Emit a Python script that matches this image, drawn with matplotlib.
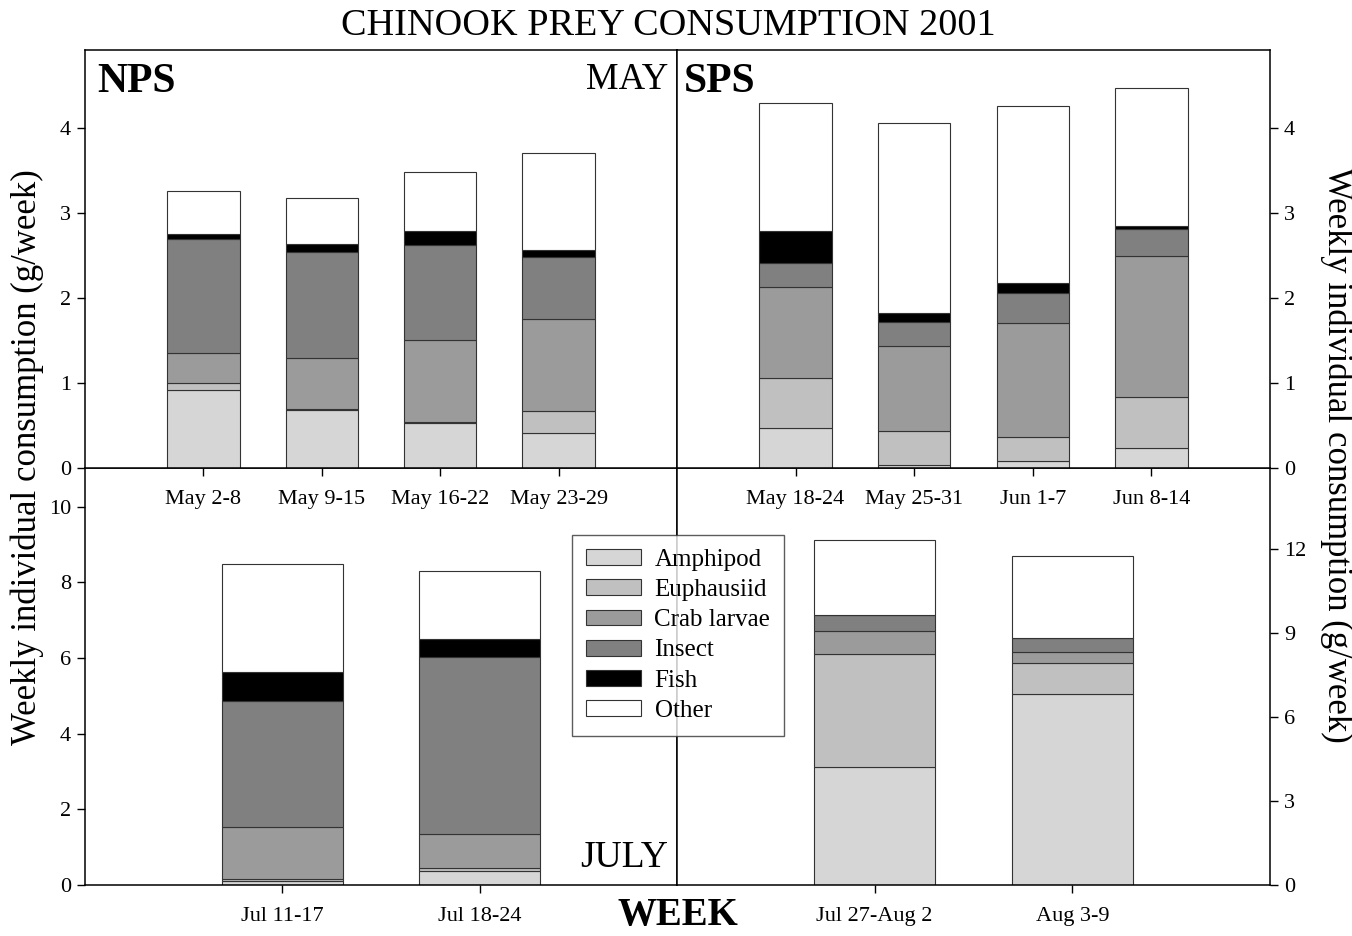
import numpy as np
import matplotlib
matplotlib.use('Agg')
import matplotlib.pyplot as plt
from matplotlib.patches import Patch

matplotlib.rcParams['font.family'] = 'Liberation Serif'

prey = ['Amphipod', 'Euphausiid', 'Crab larvae', 'Insect', 'Fish', 'Other']
prey_colors = ['#d6d6d6', '#c0c0c0', '#9b9b9b', '#808080', '#000000', '#ffffff']

# NPS, May weeks (g/week per prey group)
nps_may_weeks = ['May 2-8', 'May 9-15', 'May 16-22', 'May 23-29']
nps_may_amphipod = [0.92, 0.68, 0.525, 0.41]
nps_may_euphausiid = [0.08, 0.01, 0.015, 0.26]
nps_may_crab = [0.35, 0.60, 0.97, 1.08]
nps_may_insect = [1.34, 1.25, 1.11, 0.73]
nps_may_fish = [0.06, 0.095, 0.17, 0.085]
nps_may_other = [0.505, 0.545, 0.69, 1.145]

# SPS, May/June weeks
sps_may_weeks = ['May 18-24', 'May 25-31', 'Jun 1-7', 'Jun 8-14']
sps_may_amphipod = [0.467, 0.035, 0.082, 0.24]
sps_may_euphausiid = [0.593, 0.40, 0.288, 0.59]
sps_may_crab = [1.07, 1.00, 1.34, 1.67]
sps_may_insect = [0.285, 0.285, 0.35, 0.31]
sps_may_fish = [0.375, 0.10, 0.115, 0.04]
sps_may_other = [1.51, 2.235, 2.085, 1.62]

# NPS, July weeks
nps_jul_weeks = ['Jul 11-17', 'Jul 18-24']
nps_jul_amphipod = [0.105, 0.37]
nps_jul_euphausiid = [0.065, 0.08]
nps_jul_crab = [1.37, 0.91]
nps_jul_insect = [3.31, 4.67]
nps_jul_fish = [0.79, 0.46]
nps_jul_other = [2.85, 1.80]

# SPS, July/August weeks
sps_jul_weeks = ['Jul 27-Aug 2', 'Aug 3-9']
sps_jul_amphipod = [4.23, 6.84]
sps_jul_euphausiid = [4.04, 1.11]
sps_jul_crab = [0.81, 0.38]
sps_jul_insect = [0.56, 0.48]
sps_jul_fish = [0.0, 0.0]
sps_jul_other = [2.67, 2.93]


def stacked(ax, weeks, series):
    x = np.arange(1, len(weeks) + 1)
    bottom = np.zeros(len(weeks))
    for vals, col in zip(series, prey_colors):
        vals = np.array(vals)
        ax.bar(x, vals, 0.61, bottom=bottom, color=col, edgecolor='#333333',
               linewidth=0.8, zorder=2)
        bottom += vals
    ax.set_xlim(0, len(weeks) + 1)
    ax.set_xticks(x)
    ax.set_xticklabels(weeks)
    for s in ax.spines.values():
        s.set_linewidth(1.1)
    ax.tick_params(axis='both', direction='out', length=6, width=1,
                   labelsize=16, pad=4)
    ax.tick_params(axis='x', pad=10)


W, H = 1352, 936
fig = plt.figure(figsize=(W / 100, H / 100), dpi=100)
x0, xm, x1 = 85 / W, 677 / W, 1270 / W
y0, ym, y1 = 1 - 885 / H, 1 - 468 / H, 1 - 50 / H

ax_c = fig.add_axes([x0, y0, xm - x0, ym - y0])
ax_d = fig.add_axes([xm, y0, x1 - xm, ym - y0])
ax_a = fig.add_axes([x0, ym, xm - x0, y1 - ym])
ax_b = fig.add_axes([xm, ym, x1 - xm, y1 - ym])
# upper panels drawn last so their week labels sit on top of the lower panels
ax_a.set_zorder(3)
ax_b.set_zorder(3)

stacked(ax_a, nps_may_weeks, [nps_may_amphipod, nps_may_euphausiid, nps_may_crab,
                              nps_may_insect, nps_may_fish, nps_may_other])
stacked(ax_b, sps_may_weeks, [sps_may_amphipod, sps_may_euphausiid, sps_may_crab,
                              sps_may_insect, sps_may_fish, sps_may_other])
stacked(ax_c, nps_jul_weeks, [nps_jul_amphipod, nps_jul_euphausiid, nps_jul_crab,
                              nps_jul_insect, nps_jul_fish, nps_jul_other])
stacked(ax_d, sps_jul_weeks, [sps_jul_amphipod, sps_jul_euphausiid, sps_jul_crab,
                              sps_jul_insect, sps_jul_fish, sps_jul_other])

ax_a.set_ylim(0, 4.92)
ax_a.set_yticks([0, 1, 2, 3, 4])
ax_b.set_ylim(0, 4.92)
ax_b.set_yticks([0, 1, 2, 3, 4])
ax_b.yaxis.tick_right()
ax_c.set_ylim(0, 11.02)
ax_c.set_yticks([0, 2, 4, 6, 8, 10])
ax_d.set_ylim(0, 14.9)
ax_d.set_yticks([0, 3, 6, 9, 12])
ax_d.yaxis.tick_right()

ax_a.text(0.02, 0.97, 'NPS', transform=ax_a.transAxes, fontsize=30,
          fontweight='bold', va='top', ha='left')
ax_a.text(0.985, 0.97, 'MAY', transform=ax_a.transAxes, fontsize=26.5,
          va='top', ha='right')
ax_b.text(0.012, 0.97, 'SPS', transform=ax_b.transAxes, fontsize=30,
          fontweight='bold', va='top', ha='left')
ax_c.text(0.985, 0.025, 'JULY', transform=ax_c.transAxes, fontsize=27,
          va='bottom', ha='right')

fig.text(0.494, 1 - 26 / H, 'CHINOOK PREY CONSUMPTION 2001', fontsize=27.5,
         ha='center', va='center')
fig.text(27 / W, 0.512, 'Weekly individual consumption (g/week)', fontsize=25,
         rotation=90, ha='center', va='center')
fig.text(1337 / W, 0.514, 'Weekly individual consumption (g/week)', fontsize=25,
         rotation=-90, ha='center', va='center')
fig.text(678 / W, 1 - 915 / H, 'WEEK', fontsize=28, fontweight='bold',
         ha='center', va='center')

handles = [Patch(facecolor=c, edgecolor='#333333', linewidth=0.8) for c in prey_colors]
fig.legend(handles, prey, loc='upper left', bbox_to_anchor=(572 / W, 1 - 535 / H),
           borderaxespad=0, fontsize=18, frameon=True, fancybox=False,
           edgecolor='#333333', handlelength=2.2, handleheight=0.6,
           labelspacing=0.33, borderpad=0.55, handletextpad=0.55)

fig.savefig('out.png', dpi=100)
